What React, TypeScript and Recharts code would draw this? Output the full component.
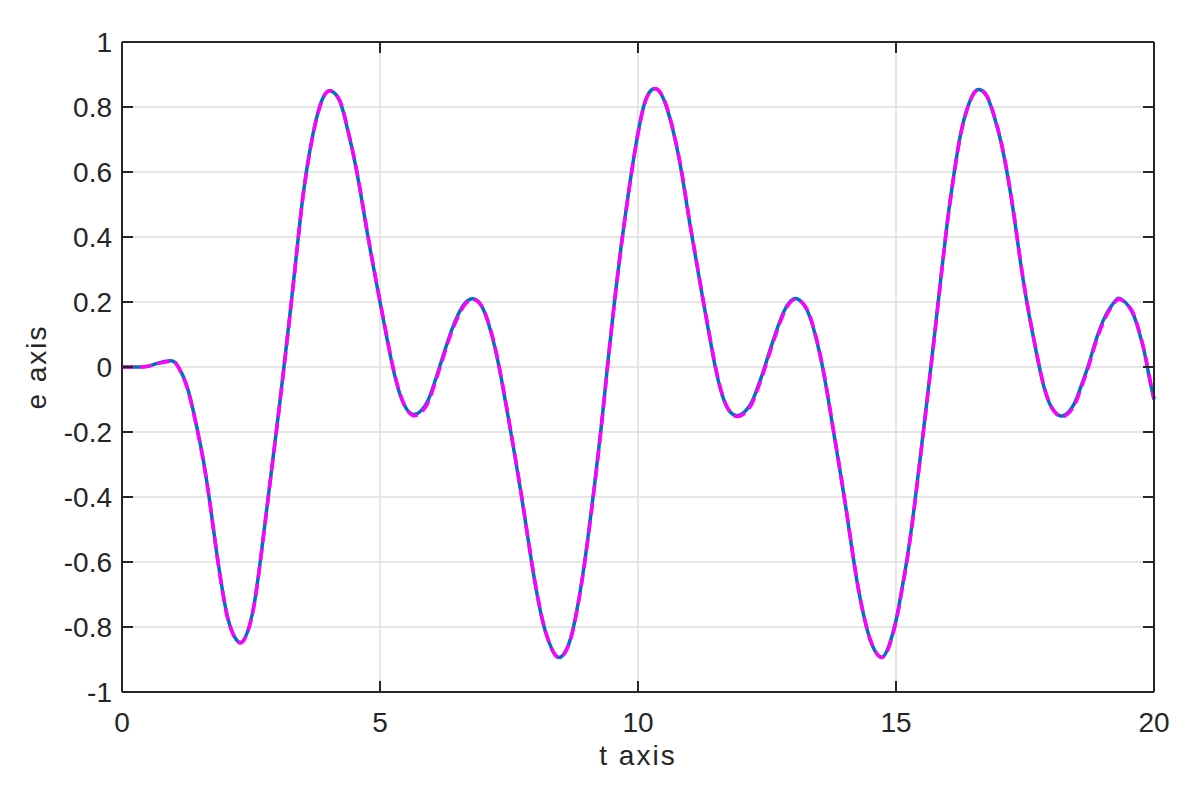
import { CartesianGrid, Line, LineChart, XAxis, YAxis } from "recharts";

// time samples
const tValues = [
  0, 0.25, 0.5, 0.7, 0.93, 1.05, 1.19, 1.32, 1.45, 1.58, 1.71, 1.83, 1.96, 2.09, 2.27, 2.42, 2.55, 2.67, 2.8, 2.93,
  3.06, 3.16, 3.26, 3.39, 3.51, 3.64, 3.77, 3.9, 4.04, 4.22, 4.35, 4.48, 4.61, 4.74, 4.87, 5.0, 5.09, 5.22, 5.35, 5.48,
  5.66, 5.87, 6.0, 6.12, 6.25, 6.38, 6.51, 6.64, 6.8, 6.96, 7.09, 7.22, 7.35, 7.48, 7.61, 7.74, 7.87, 8.0, 8.13, 8.26,
  8.45, 8.64, 8.77, 8.9, 9.03, 9.16, 9.29, 9.42, 9.55, 9.68, 9.81, 9.94, 10.09, 10.22, 10.35, 10.48, 10.61, 10.74, 10.86, 10.99,
  11.12, 11.25, 11.38, 11.51, 11.64, 11.77, 11.95, 12.16, 12.29, 12.42, 12.55, 12.68, 12.81, 12.93, 13.08, 13.26, 13.39, 13.51, 13.64, 13.77,
  13.9, 14.03, 14.16, 14.29, 14.42, 14.55, 14.72, 14.87, 15.0, 15.09, 15.22, 15.35, 15.48, 15.61, 15.74, 15.87, 15.99, 16.12, 16.25, 16.38,
  16.51, 16.63, 16.77, 16.9, 17.03, 17.16, 17.29, 17.41, 17.54, 17.67, 17.8, 17.93, 18.06, 18.24, 18.45, 18.58, 18.71, 18.84, 18.97, 19.1,
  19.23, 19.35, 19.55, 19.68, 19.81, 19.9, 20.0,
];

// blue solid curve
const eActual = [
  0, 0, 0.002, 0.012, 0.019, 0.01, -0.03, -0.094, -0.185, -0.29, -0.425, -0.565, -0.7, -0.795, -0.847, -0.82, -0.74, -0.61, -0.444, -0.276,
  -0.107, 0.03, 0.17, 0.36, 0.53, 0.665, 0.766, 0.83, 0.85, 0.818, 0.746, 0.656, 0.548, 0.425, 0.31, 0.2, 0.125, 0.02, -0.065, -0.12,
  -0.146, -0.12, -0.075, -0.017, 0.048, 0.11, 0.16, 0.195, 0.21, 0.19, 0.14, 0.065, -0.035, -0.15, -0.27, -0.395, -0.53, -0.66, -0.767, -0.84,
  -0.893, -0.86, -0.785, -0.67, -0.525, -0.36, -0.18, 0.02, 0.21, 0.38, 0.53, 0.665, 0.79, 0.845, 0.856, 0.83, 0.77, 0.685, 0.585, 0.455,
  0.335, 0.215, 0.1, -0.01, -0.09, -0.135, -0.149, -0.12, -0.075, -0.017, 0.048, 0.11, 0.165, 0.198, 0.21, 0.18, 0.125, 0.05, -0.055, -0.18,
  -0.305, -0.435, -0.575, -0.7, -0.795, -0.86, -0.893, -0.855, -0.78, -0.705, -0.585, -0.435, -0.265, -0.09, 0.09, 0.275, 0.44, 0.59, 0.715, 0.795,
  0.843, 0.853, 0.83, 0.772, 0.695, 0.591, 0.462, 0.325, 0.195, 0.085, -0.017, -0.094, -0.135, -0.15, -0.114, -0.062, -0.004, 0.065, 0.125, 0.17,
  0.2, 0.21, 0.177, 0.125, 0.048, -0.025, -0.1,
];

// magenta dashed curve (sits almost exactly on the blue one)
const eReference = [
  0, 0, 0.002, 0.011, 0.018, 0.01, -0.032, -0.096, -0.188, -0.292, -0.427, -0.567, -0.702, -0.797, -0.848, -0.822, -0.742, -0.612, -0.446, -0.278,
  -0.11, 0.026, 0.166, 0.357, 0.527, 0.663, 0.764, 0.829, 0.85, 0.82, 0.748, 0.658, 0.551, 0.428, 0.313, 0.203, 0.129, 0.024, -0.062, -0.119,
  -0.15, -0.126, -0.081, -0.023, 0.042, 0.104, 0.154, 0.191, 0.208, 0.19, 0.142, 0.068, -0.032, -0.147, -0.267, -0.393, -0.528, -0.658, -0.765, -0.84,
  -0.894, -0.862, -0.788, -0.674, -0.529, -0.364, -0.184, 0.016, 0.206, 0.377, 0.527, 0.663, 0.788, 0.844, 0.856, 0.832, 0.773, 0.688, 0.588, 0.458,
  0.338, 0.218, 0.103, -0.006, -0.088, -0.135, -0.152, -0.126, -0.081, -0.023, 0.042, 0.104, 0.16, 0.195, 0.208, 0.182, 0.128, 0.053, -0.052, -0.177,
  -0.302, -0.432, -0.572, -0.698, -0.794, -0.859, -0.894, -0.858, -0.784, -0.709, -0.589, -0.439, -0.269, -0.094, 0.086, 0.271, 0.437, 0.587, 0.713, 0.794,
  0.842, 0.853, 0.832, 0.775, 0.698, 0.594, 0.465, 0.328, 0.198, 0.088, -0.014, -0.092, -0.135, -0.153, -0.12, -0.068, -0.01, 0.059, 0.119, 0.165,
  0.197, 0.208, 0.179, 0.128, 0.051, -0.022, -0.097,
];

const tTicks = [0, 5, 10, 15, 20];
const eTicks = [-1, -0.8, -0.6, -0.4, -0.2, 0, 0.2, 0.4, 0.6, 0.8, 1];

const data = tValues.map((t, i) => ({ t, actual: eActual[i], reference: eReference[i] }));

const FONT = "'Liberation Sans', Arial, Helvetica, sans-serif";
const INK = "#262626";
const FS = 28;
const TICK_LEN = 11;

// ticks point into the plot box, like the MATLAB frame
const LeftTick = ({ x, y, payload }: any) => (
  <g>
    <line x1={x} x2={x + TICK_LEN} y1={y} y2={y} stroke={INK} strokeWidth={2} />
    <text x={x - 10} y={y} dy="0.36em" textAnchor="end" fill={INK} fontSize={FS} fontFamily={FONT}>
      {payload.value}
    </text>
  </g>
);

const BottomTick = ({ x, y, payload }: any) => (
  <g>
    <line x1={x} x2={x} y1={y} y2={y - TICK_LEN} stroke={INK} strokeWidth={2} />
    <text x={x} y={y + 40} textAnchor="middle" fill={INK} fontSize={FS} fontFamily={FONT}>
      {payload.value}
    </text>
  </g>
);

const TopTick = ({ x, y }: any) => (
  <line x1={x} x2={x} y1={y} y2={y + TICK_LEN} stroke={INK} strokeWidth={2} />
);

const RightTick = ({ x, y }: any) => (
  <line x1={x} x2={x - TICK_LEN} y1={y} y2={y} stroke={INK} strokeWidth={2} />
);

export default function App() {
  return (
    <div style={{ position: "absolute", left: 0, top: 0, width: 1190, height: 791, background: "#fff" }}>
      <LineChart width={1190} height={791} data={data} margin={{ top: 41, right: 35, bottom: 0, left: 0 }}>
        <CartesianGrid stroke="#dedede" strokeWidth={1.5} />
        <XAxis
          dataKey="t"
          type="number"
          domain={[0, 20]}
          ticks={tTicks}
          height={99}
          tickSize={0}
          tickMargin={0}
          tickLine={false}
          tick={<BottomTick />}
          stroke={INK}
          strokeWidth={2}
          label={({ viewBox }: any) => (
            <text
              x={viewBox.x + viewBox.width / 2}
              y={765}
              textAnchor="middle"
              fill={INK}
              fontSize={FS}
              fontFamily={FONT}
              letterSpacing={2}
            >
              t axis
            </text>
          )}
        />
        <XAxis
          xAxisId="top"
          dataKey="t"
          orientation="top"
          type="number"
          domain={[0, 20]}
          ticks={tTicks}
          height={1}
          tickSize={0}
          tickMargin={0}
          tickLine={false}
          tick={<TopTick />}
          stroke={INK}
          strokeWidth={2}
        />
        <YAxis
          type="number"
          domain={[-1, 1]}
          ticks={eTicks}
          width={122}
          tickSize={0}
          tickMargin={0}
          tickLine={false}
          tick={<LeftTick />}
          stroke={INK}
          strokeWidth={2}
          label={({ viewBox }: any) => {
            const cy = viewBox.y + viewBox.height / 2;
            return (
              <text
                x={46}
                y={cy}
                transform={`rotate(-90, 46, ${cy})`}
                textAnchor="middle"
                fill={INK}
                fontSize={FS}
                fontFamily={FONT}
                letterSpacing={2}
              >
                e axis
              </text>
            );
          }}
        />
        <YAxis
          yAxisId="right"
          orientation="right"
          type="number"
          domain={[-1, 1]}
          ticks={eTicks}
          width={1}
          tickSize={0}
          tickMargin={0}
          tickLine={false}
          tick={<RightTick />}
          stroke={INK}
          strokeWidth={2}
        />
        <Line
          type="natural"
          dataKey="actual"
          stroke="#0072BD"
          strokeWidth={3.5}
          dot={false}
          isAnimationActive={false}
        />
        <Line
          xAxisId="top"
          yAxisId="right"
          type="natural"
          dataKey="reference"
          stroke="#FF00FF"
          strokeWidth={3.5}
          strokeDasharray="12 6"
          dot={false}
          isAnimationActive={false}
        />
      </LineChart>
    </div>
  );
}
